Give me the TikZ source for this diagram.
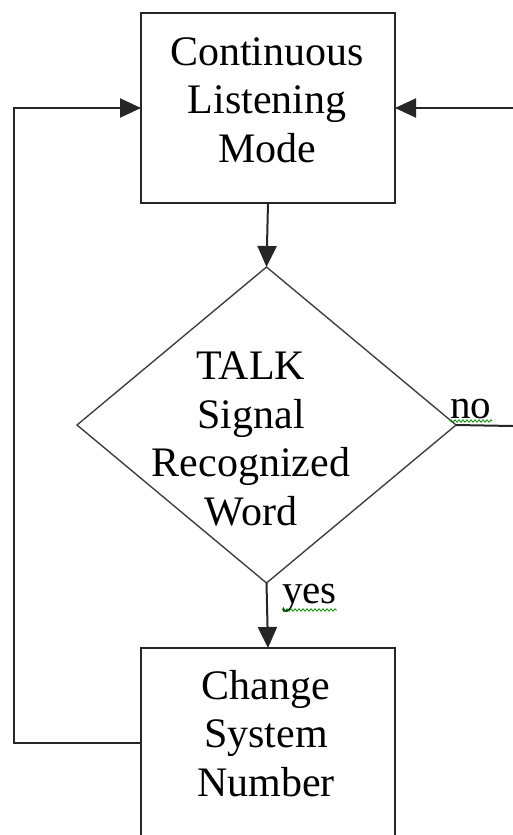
\documentclass[tikz,border=0pt]{standalone}
\usepackage{fontspec}
\setmainfont{Liberation Serif}
\usetikzlibrary{arrows.meta,shapes.geometric,decorations.pathmorphing}

\tikzset{
  stepbox/.style={draw=black!85, line width=2pt, minimum width=254pt,
    minimum height=190pt, inner sep=0pt, outer sep=0pt},
  decision/.style={draw=black!75, line width=1.4pt, shape=diamond,
    minimum width=379pt, minimum height=316pt, inner sep=0pt, outer sep=0pt},
  boxtext/.style={align=center, inner sep=0pt, anchor=base,
    font=\fontsize{42}{48.5}\selectfont},
  flowlabel/.style={inner sep=0pt, anchor=base west,
    font=\fontsize{41}{48}\selectfont},
  conn/.style={draw=black!85, line width=2pt},
  flow/.style={conn, -{Triangle[length=21pt,width=19pt]}},
  squiggle/.style={draw=green!55!black, line width=0.8pt,
    decorate, decoration={zigzag, segment length=4pt, amplitude=1.2pt}}
}

\begin{document}
\begin{tikzpicture}[x=1pt, y=-1pt]
  \useasboundingbox (0,0) rectangle (513,835);
  \clip (0,0) rectangle (513,835);

  % process boxes and the decision diamond
  \node[stepbox]  (listen) at (268,108) {};
  \node[decision] (decide) at (266.5,425) {};
  \node[stepbox]  (change) at (268,743) {};

  % box texts (anchored at the baseline of the last line)
  \node[boxtext] (listentext) at (267,162) {Continuous\\Listening\\Mode};
  \node[boxtext] (decidetext) at (251,525) {TALK\\Signal\\Recognized\\Word};
  \node[boxtext] (changetext) at (266,796) {Change\\System\\Number};

  % free ends of the loop lines
  \coordinate (loopbot)  at (14,743);
  \coordinate (looptop)  at (14,108);
  \coordinate (rightin)  at (513,108);
  \coordinate (rightout) at (513,426);

  % connectors
  \draw[flow] (listen.south) -- (decide.north);
  \draw[flow] (decide.south) -- (change.north);
  \draw[flow] (change.west) -- (loopbot) -- (looptop) -- (listen.west);
  \draw[flow] (rightin) -- (listen.east);
  \draw[conn] (decide.east) -- (rightout);

  % branch labels with their underlines
  \node[flowlabel] (nolabel)  at (450,418) {no};
  \node[flowlabel] (yeslabel) at (282,603) {yes};
  \draw[squiggle] (nolabel.base west)  ++(0,3) -- ++(42,0);
  \draw[squiggle] (yeslabel.base west) ++(0,7) -- ++(55,0);
\end{tikzpicture}
\end{document}
